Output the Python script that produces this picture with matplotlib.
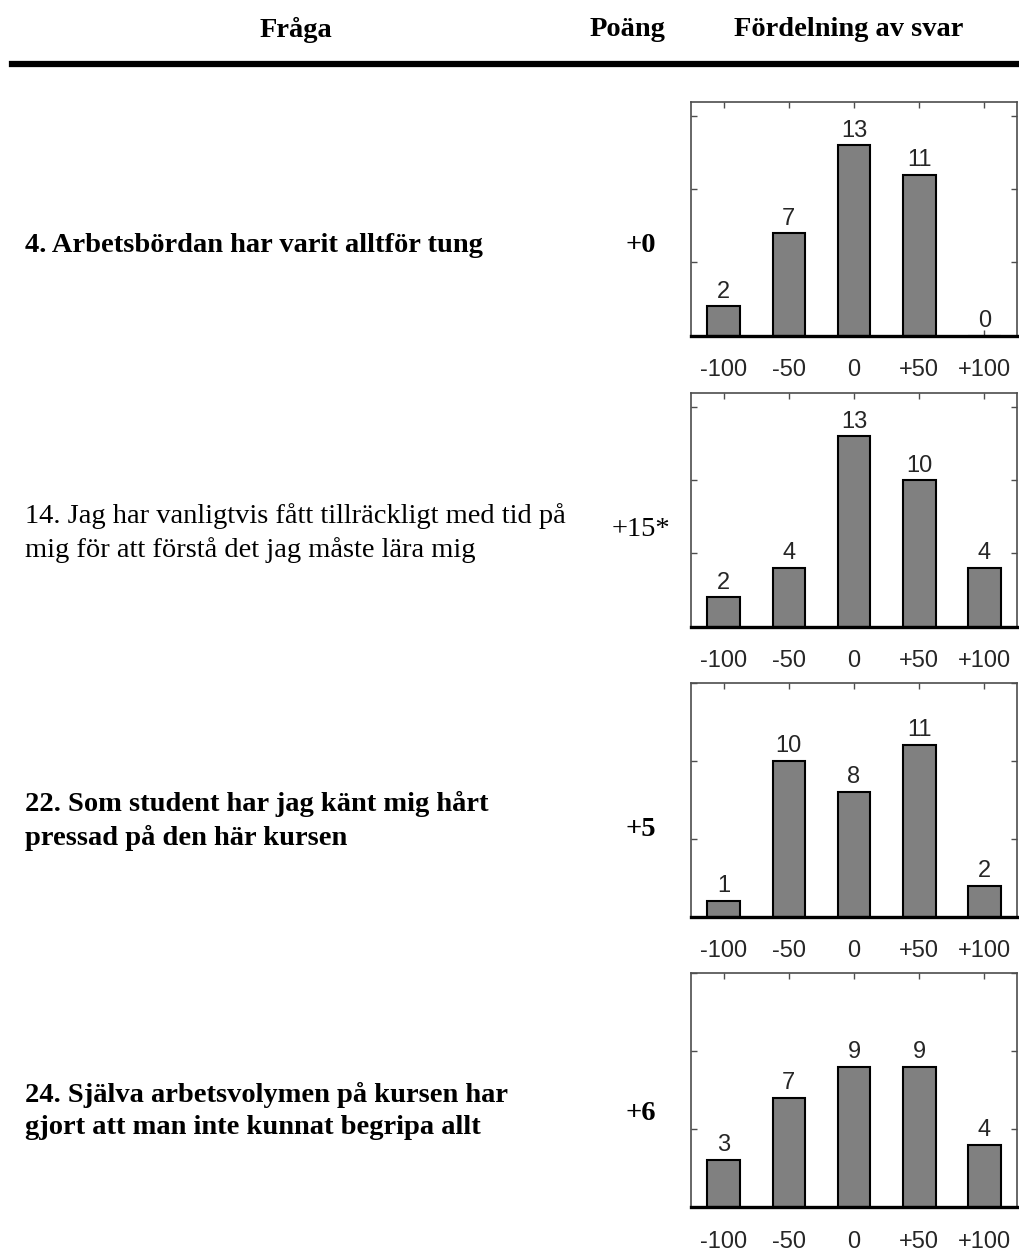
import numpy as np
import matplotlib
matplotlib.use('Agg')
import matplotlib.pyplot as plt

# data
questions = [
    '4. Arbetsbördan har varit alltför tung',
    '14. Jag har vanligtvis fått tillräckligt med tid på\nmig för att förstå det jag måste lära mig',
    '22. Som student har jag känt mig hårt\npressad på den här kursen',
    '24. Själva arbetsvolymen på kursen har\ngjort att man inte kunnat begripa allt',
]
scores = ['+0', '+15*', '+5', '+6']
bold = [True, False, True, True]
categories = ['-100', '-50', '0', '+50', '+100']
counts_q4 = [2, 7, 13, 11, 0]
counts_q14 = [2, 4, 13, 10, 4]
counts_q22 = [1, 10, 8, 11, 2]
counts_q24 = [3, 7, 9, 9, 4]
all_counts = [counts_q4, counts_q14, counts_q22, counts_q24]

W, H = 1019, 1253
fig = plt.figure(figsize=(W / 100, H / 100), dpi=100)

def fx(px):
    return px / W

def fy(py):
    return 1 - py / H

serif = 'Liberation Serif'
sans = 'Liberation Sans'

# header
hdr = dict(fontfamily=serif, fontweight='bold', fontsize=20.5, ha='center', va='center')
fig.text(fx(296), fy(30), 'Fråga', **hdr)
fig.text(fx(628), fy(30), 'Poäng', **hdr)
fig.text(fx(849), fy(30), 'Fördelning av svar', **hdr)
fig.add_artist(plt.Line2D([fx(12), fx(1019)], [fy(64), fy(64)], color='black', lw=4.5))

# layout (pixels from top)
ax_top = [101.6, 392.5, 682.7, 973]
ax_h = 234
text_y = [246, 533, 821, 1111]
score_y = [246, 529, 830, 1113]
x = np.arange(1, len(categories) + 1)

for i, counts in enumerate(all_counts):
    top = ax_top[i]
    ax = fig.add_axes([fx(691), fy(top + ax_h), fx(326), ax_h / H])
    ax.bar(x, counts, width=0.5, color='#808080', edgecolor='black', linewidth=1.5, zorder=2)
    ax.set_xlim(0.5, 5.5)
    ax.set_ylim(0, max(counts) + 3)
    ax.axhline(0, color='black', lw=2.4, zorder=3, clip_on=False)
    for xi, c in zip(x, counts):
        ax.text(xi, c + 0.25, str(c), ha='center', va='bottom',
                fontfamily=sans, fontsize=17, color='#262626')
    ax.set_xticks(x)
    ax.set_xticklabels(categories, fontfamily=sans, fontsize=17, color='#262626')
    ax.set_yticks([5, 10, 15])
    ax.set_yticklabels([])
    ax.tick_params(direction='in', length=4, width=1, color='#4d4d4d',
                   top=True, right=True, pad=17)
    for s in ax.spines.values():
        s.set_color('#4d4d4d')
        s.set_linewidth(1.2)

    # question and score
    w = 'bold' if bold[i] else 'normal'
    fig.text(fx(25), fy(text_y[i]), questions[i], fontfamily=serif, fontweight=w,
             fontsize=20.5, ha='left', va='center', linespacing=1.38)
    fig.text(fx(641), fy(score_y[i]), scores[i], fontfamily=serif, fontweight=w,
             fontsize=20.5, ha='center', va='center')

fig.savefig('out.png', dpi=100)
